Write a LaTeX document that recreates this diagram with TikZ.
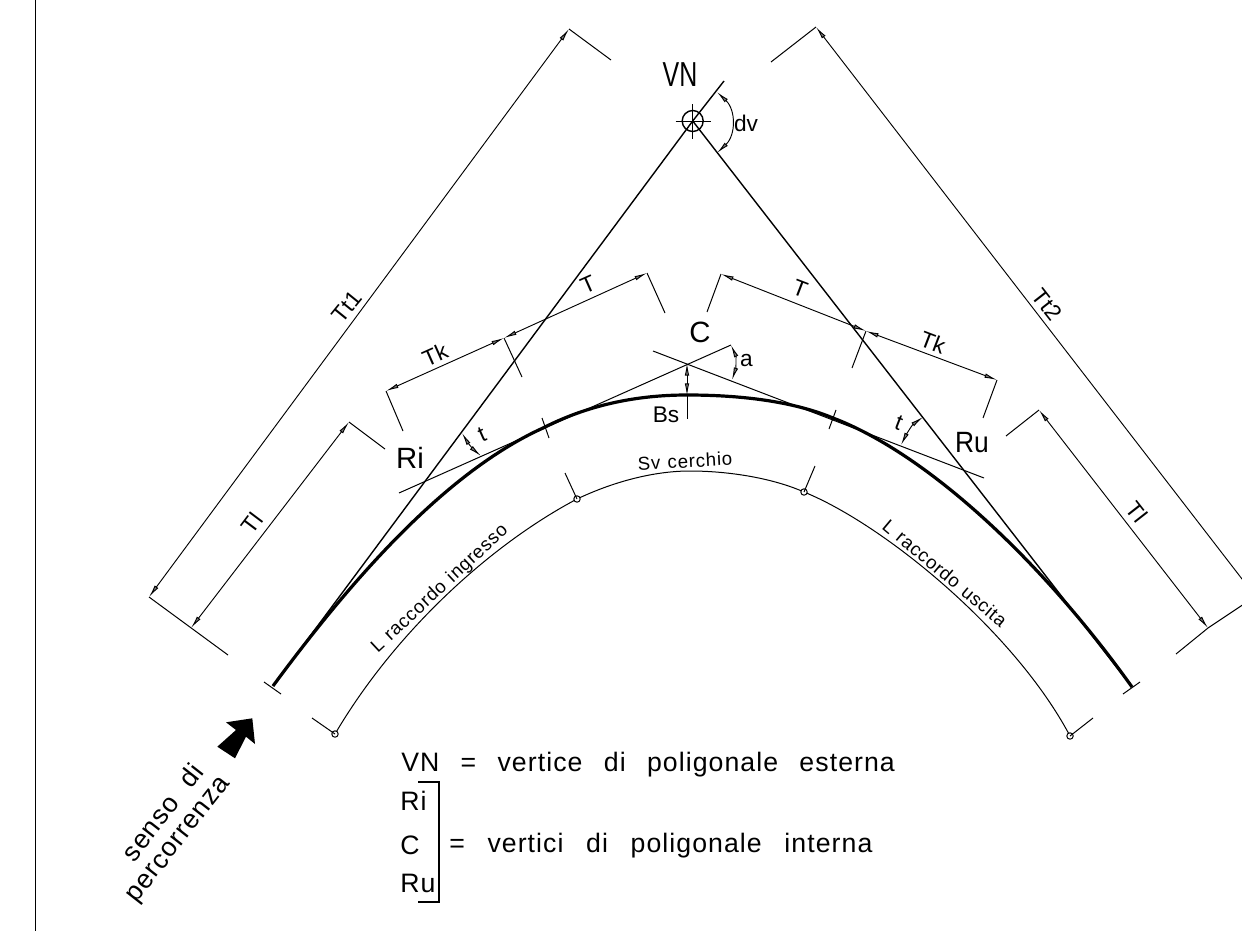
\documentclass[tikz,border=0pt]{standalone}
\usepackage{fontspec}
\setmainfont{Liberation Sans}
\newfontfamily\spacedfont{Liberation Sans}[LetterSpace=4]
\newcommand{\widewords}[2]{{\spaceskip=#1\relax #2}}
\usetikzlibrary{arrows.meta}
\tikzset{
  x=0.75pt,y=-0.75pt,
  thinline/.style={draw=black,line width=0.75pt},
  midline/.style={draw=black,line width=1.05pt},
  thickline/.style={draw=black,line width=2.4pt},
  dimline/.style={draw=black,line width=0.7pt,{Latex[length=9.5pt,width=3.4pt,fill=gray]}-{Latex[length=9.5pt,width=3.4pt,fill=gray]}},
  lab/.style={inner sep=0pt,font=\fontsize{17}{17}\selectfont},
  big/.style={inner sep=0pt,font=\fontsize{22}{22}\selectfont},
  leg/.style={inner sep=0pt,anchor=base west,font=\spacedfont\fontsize{20}{20}\selectfont},
  small/.style={inner sep=0pt,font=\spacedfont\fontsize{14}{14}\selectfont},
  slant/.style={inner sep=0pt,font=\spacedfont\fontsize{20}{20}\selectfont},
}
\begin{document}
\begin{tikzpicture}
\path[clip,use as bounding box] (0,0) rectangle (1242,931);
% points
\coordinate (VN) at (692.7,121);
\coordinate (Ls) at (273,686);
\coordinate (Re) at (1132,687);
\coordinate (Ctop) at (687,363);
\coordinate (TiA) at (399,493);
\coordinate (TiB) at (731,345);
\coordinate (TuA) at (653,351);
\coordinate (TuB) at (984,478);
\coordinate (VNx) at (724,81);
\draw[thinline] (35,0) coordinate (Fa) -- (35,931) coordinate (Fb);
% polygon
\draw[midline] (VNx) -- (VN) -- (Ls);
\draw[midline] (VN) -- (Re);
\draw[thinline] (TiA) -- (TiB);
\draw[thinline] (TuA) -- (TuB);
% thick curve
\draw[thickline,line join=round] (Ls) .. controls (365,561) and (455,468) .. (543,428)
  .. controls (586,406) and (634,395) .. (687,395)
  .. controls (748,395) and (797,403) .. (833,418)
  .. controls (930,455) and (1045,565) .. (Re);
% outer arc
\coordinate (Oa) at (335,734); \coordinate (Ob) at (577,499); \coordinate (Oc) at (804,492); \coordinate (Od) at (1070,736);
\draw[thinline] (Oa) .. controls (395,632) and (490,545) .. (Ob)
  .. controls (615,481) and (655,471) .. (690,471)
  .. controls (725,471) and (770,477) .. (Oc)
  .. controls (885,525) and (1015,632) .. (Od);
\foreach \p in {Oa,Ob,Oc,Od}{\draw[thinline,fill=white] (\p) circle[radius=3.2];}
\draw[thinline] (Oa) -- (312,718);
\draw[thinline] (Ob) -- (565,473);
\draw[thinline] (Oc) -- (815,466);
\draw[thinline] (Od) -- (1093,718);
% end ticks, curve ticks
\draw[thinline] (264,682) -- (281,694);
\draw[thinline] (1123,694) -- (1140,682);
\draw[thinline] (542,418) -- (549,438);
\draw[thinline] (836,410) -- (829,429);
% VN symbol
\draw[midline] (VN) circle[radius=10.5];
\draw[thinline] (675.5,121) -- (710.5,121);
\draw[thinline] (692.7,104) -- (692.7,139);
% Tt1
\coordinate (A1) at (569,29); \coordinate (A2) at (149,597);
\draw[thinline] (611,60) -- (A1);
\draw[thinline] (A2) -- (228,655);
\draw[dimline] (A1) -- (A2);
% Tl left
\coordinate (B1) at (349,422); \coordinate (B2) at (191,628);
\draw[thinline] (385,449) -- (B1);
\draw[dimline] (B1) -- (B2);
% Tt2
\coordinate (D1) at (816,27); \coordinate (D2) at (1259,601);
\draw[thinline] (771,62) -- (D1);
\draw[dimline] (D1) -- (D2);
% Tl right
\coordinate (E1) at (1039,410); \coordinate (E2) at (1208,628);
\draw[thinline] (1006,436) -- (E1);
\draw[thinline] (1176,654) -- (E2) -- (1250,600);
\draw[dimline] (E1) -- (E2);
% T/Tk left
\coordinate (F1) at (386,391); \coordinate (F2) at (504,338); \coordinate (F3) at (647,273);
\draw[thinline] (403,431) -- (F1);
\draw[thinline] (F2) -- (522,377);
\draw[thinline] (F3) -- (665,313);
\draw[dimline] (F1) -- (F2);
\draw[dimline] (F2) -- (F3);
% T/Tk right
\coordinate (G1) at (721,274); \coordinate (G2) at (866,331); \coordinate (G3) at (997,380);
\draw[thinline] (707,312) -- (G1);
\draw[thinline] (G2) -- (852,368);
\draw[thinline] (G3) -- (983,418);
\draw[dimline] (G1) -- (G2);
\draw[dimline] (G2) -- (G3);
% angular dims
\draw[dimline] (717,92) .. controls (736,110) and (736,135) .. (717,153);
\draw[dimline] (731,345) .. controls (736,356) and (736,368) .. (732,380);
\draw[dimline] (462,433) .. controls (468,443) and (474,450) .. (481,456);
\draw[dimline] (923,417) .. controls (912,425) and (906,435) .. (901,445);
\coordinate (BsA) at (687,396);
\draw[dimline] (Ctop) -- (BsA);
\draw[thinline] (BsA) -- (687,419);
% arrow
\fill[black] (226,722.3) -- (252.3,718.3) -- (255,744) -- (246,736.7) -- (235,758.3) -- (217.3,746.7) -- (236,730) -- cycle;
% bracket
\draw[midline] (418,782) -- (439,782) -- (439,902) -- (418,902);
% labels
\node[big,font=\fontsize{26}{26}\selectfont] (lVN) at (680,74.5) {\scalebox{.72}[1]{VN}};
\node[big] (lRi) at (410,458) {Ri};
\node[big] (lC) at (700,332) {C};
\node[big] (lRu) at (972,442.5) {\scalebox{.9}[1]{Ru}};
\node[lab] (ldv) at (746,123) {dv};
\node[lab] (la) at (746.5,361) {a};
\node[lab,rotate=51] (lTt1) at (347,307) {Tt1};
\node[lab,rotate=-52] (lTt2) at (1047,305) {Tt2};
\node[lab,rotate=53] (lTlL) at (252,523) {Tl};
\node[lab,rotate=-52] (lTlR) at (1137,512) {Tl};
\node[lab,rotate=24] (lTkL) at (435,355) {Tk};
\node[lab,rotate=24] (lTL) at (588,285) {T};
\node[lab,rotate=-21] (lTR) at (800,289) {T};
\node[lab,rotate=-21] (lTkR) at (933,342) {Tk};
\node[lab,rotate=24] (ltL) at (482,435) {t};
\node[lab,rotate=-21] (ltR) at (899,423) {t};
\node[lab] (lBs) at (666,415) {Bs};
\node[small,rotate=3] (lSv) at (685,461) {\widewords{5.5pt}{Sv cerchio}};
\node[small,rotate=43] (lLi) at (440,589) {\widewords{5.5pt}{L raccordo ingresso}};
\node[small,rotate=-40] (lLu) at (945,573) {\widewords{5.5pt}{L raccordo uscita}};
\node[slant,rotate=52] (lSenso) at (162,812) {\widewords{13pt}{senso di}};
\node[slant,rotate=52] (lPerc) at (180,841) {percorrenza};
\node[leg] (l1) at (401,771) {\widewords{16pt}{VN = vertice di poligonale esterna}};
\node[leg] (l2) at (400,810) {Ri};
\node[leg] (l3) at (400,854) {C};
\node[leg] (l4) at (400,892) {Ru};
\node[leg] (l5) at (449,852) {\widewords{17pt}{= vertici di poligonale interna}};
\end{tikzpicture}
\end{document}
